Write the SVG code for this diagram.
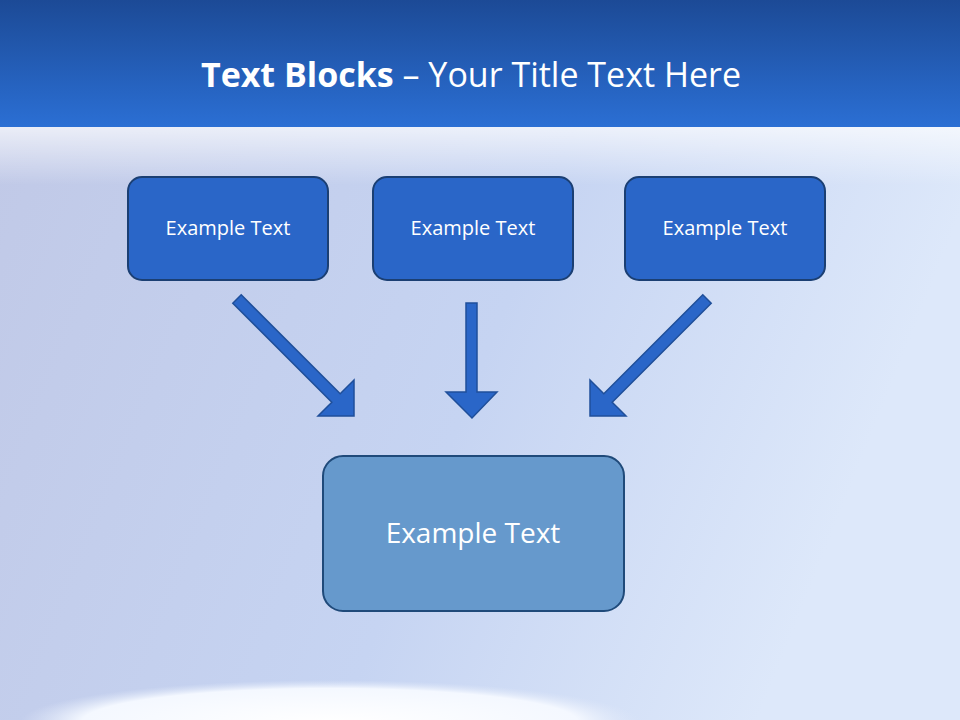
<svg xmlns="http://www.w3.org/2000/svg" width="960" height="720" viewBox="0 0 960 720">
<defs>
<linearGradient id="hdr" x1="0" y1="0" x2="0" y2="1"><stop offset="0" stop-color="#1c4a96"/><stop offset="1" stop-color="#2b6fd4"/></linearGradient>
<linearGradient id="bg" x1="0" y1="0" x2="1" y2="0.3"><stop offset="0" stop-color="#c0c8e6"/><stop offset="0.6" stop-color="#c6d4f2"/><stop offset="1" stop-color="#dde8fa"/></linearGradient>
<linearGradient id="glow" x1="0" y1="0" x2="0" y2="1"><stop offset="0" stop-color="#ffffff" stop-opacity="0.7"/><stop offset="1" stop-color="#ffffff" stop-opacity="0"/></linearGradient>
<radialGradient id="spot" cx="0.5" cy="0.5" r="0.5"><stop offset="0" stop-color="#ffffff"/><stop offset="0.8" stop-color="#f4f8ff"/><stop offset="1" stop-color="#e0e8f8" stop-opacity="0"/></radialGradient>
<style>
.box{fill:#2a66c8;stroke:#1b3f73;stroke-width:2}
.big{fill:#6699cc;stroke:#1f4a7a;stroke-width:2}
.arr{fill:#2a66c8;stroke:#1f4f9a;stroke-width:1.5}
.t{font-family:"Open Sans","Liberation Sans",sans-serif;fill:#ffffff;text-anchor:middle}
</style>
</defs>
<rect width="960" height="720" fill="url(#bg)"/>
<rect y="125" width="960" height="60" fill="url(#glow)"/>
<rect width="960" height="127" fill="url(#hdr)"/>
<ellipse cx="330" cy="722" rx="310" ry="42" fill="url(#spot)"/>
<text class="t" x="471" y="87" font-size="34"><tspan font-weight="bold">Text Blocks</tspan> – Your Title Text Here</text>
<g id="node1"><rect class="box" x="128" y="177" width="200" height="103" rx="14"/><text class="t" x="228" y="235" font-size="20">Example Text</text></g>
<g id="node2"><rect class="box" x="373" y="177" width="200" height="103" rx="14"/><text class="t" x="473" y="235" font-size="20">Example Text</text></g>
<g id="node3"><rect class="box" x="625" y="177" width="200" height="103" rx="14"/><text class="t" x="725" y="235" font-size="20">Example Text</text></g>
<g id="node4"><rect class="big" x="323" y="456" width="301" height="155" rx="20"/><text class="t" x="473" y="543" font-size="28">Example Text</text></g>
<g id="connectors">
<polygon class="arr" points="241.2,294.8 340.2,393.8 354,380 354,416 318,416 331.8,402.2 232.8,303.2"/>
<polygon class="arr" points="466,303 477,303 477,392 497,392 472,418 446,392 466,392"/>
<polygon class="arr" points="702.8,294.8 603.8,393.8 590,380 590,416 626,416 612.2,402.2 711.2,303.2"/>
</g>
</svg>
